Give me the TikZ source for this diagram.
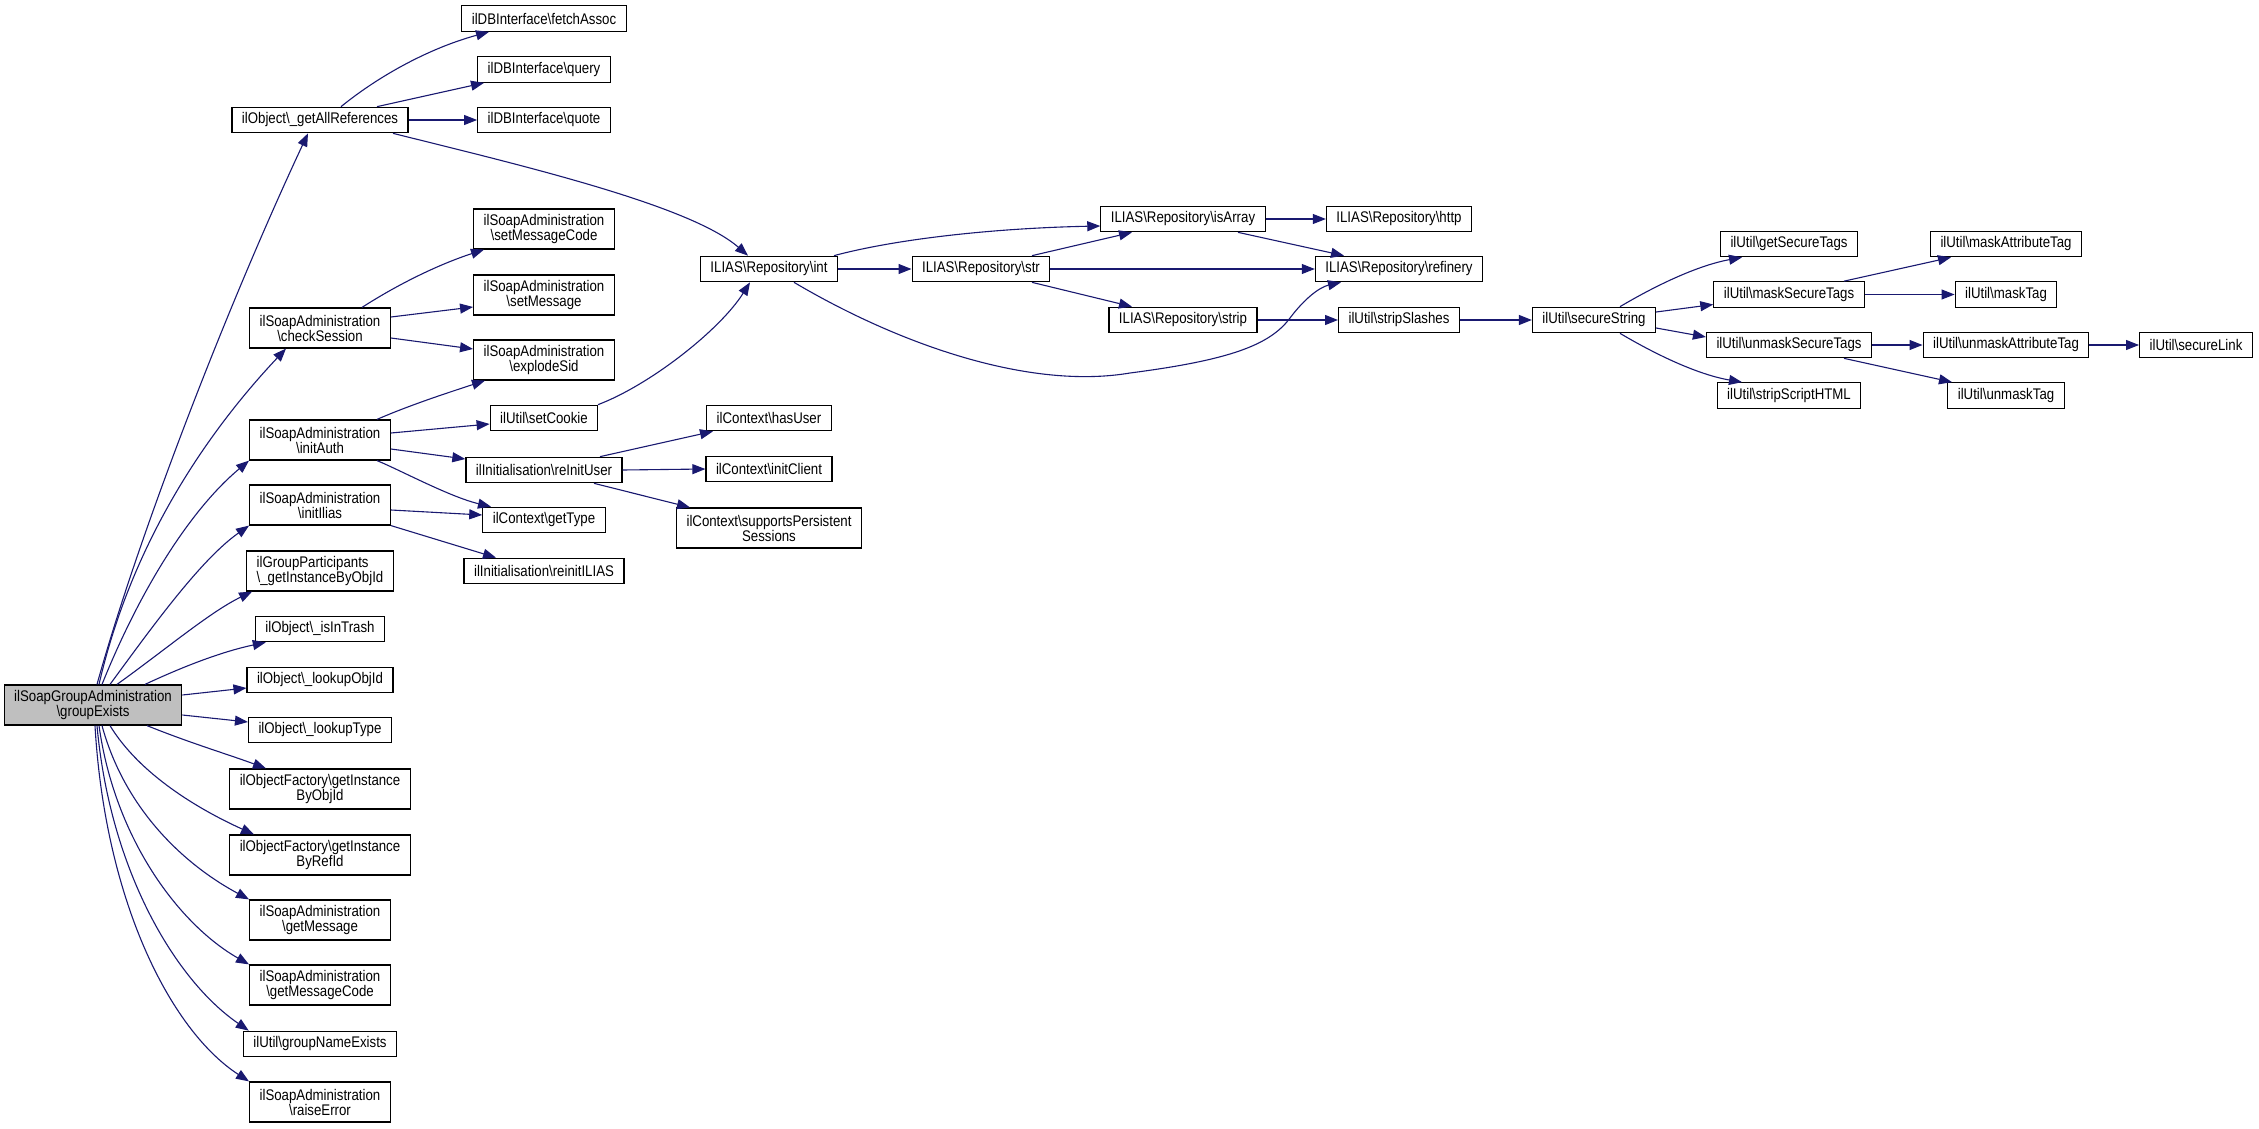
\documentclass[tikz,border=0pt]{standalone}
\usepackage{fontspec}
\setmainfont{Liberation Sans}[FakeStretch=0.86]
\usepackage{tikz}
\usetikzlibrary{arrows.meta}
\definecolor{edgeblue}{RGB}{25,25,112}
\definecolor{rootgray}{RGB}{191,191,191}
\newcommand{\bsl}{\textbackslash}

\begin{document}
\begin{tikzpicture}[
    x=1pt, y=-1pt,
    >={Triangle[length=13pt,width=10pt]},
    fnbox/.style={rectangle, draw=black, line width=1.2pt, fill=white, align=center, inner xsep=10pt, inner ysep=2pt, minimum height=25.5pt, font=\fontsize{15.4}{15}\selectfont},
    twoline/.style={minimum height=40pt},
    rootbox/.style={fnbox, twoline, fill=rootgray},
    calls/.style={->, draw=edgeblue, line width=1.1pt}
]
\useasboundingbox (0,0) rectangle (2259,1129);

% 0. Caller
\node[rootbox] (root) at (93,705) {ilSoapGroupAdministration\\\bsl groupExists};

% 1. Direct calls
\node[fnbox] (getallref) at (320,120) {ilObject\bsl\_getAllReferences};
\node[fnbox, twoline] (checksession) at (320,328) {ilSoapAdministration\\\bsl checkSession};
\node[fnbox, twoline] (initauth) at (320,440) {ilSoapAdministration\\\bsl initAuth};
\node[fnbox, twoline] (initilias) at (320,505) {ilSoapAdministration\\\bsl initIlias};
\node[fnbox, twoline, align=left] (grppart) at (320,571) {ilGroupParticipants\\\bsl\_getInstanceByObjId};
\node[fnbox] (isintrash) at (320,629) {ilObject\bsl\_isInTrash};
\node[fnbox] (lookupobjid) at (320,680) {ilObject\bsl\_lookupObjId};
\node[fnbox] (lookuptype) at (320,730) {ilObject\bsl\_lookupType};
\node[fnbox, twoline] (factobj) at (320,789) {ilObjectFactory\bsl getInstance\\ByObjId};
\node[fnbox, twoline] (factref) at (320,855) {ilObjectFactory\bsl getInstance\\ByRefId};
\node[fnbox, twoline] (getmsg) at (320,920) {ilSoapAdministration\\\bsl getMessage};
\node[fnbox, twoline] (getmsgcode) at (320,985) {ilSoapAdministration\\\bsl getMessageCode};
\node[fnbox] (grpname) at (320,1044) {ilUtil\bsl groupNameExists};
\node[fnbox, twoline] (raiseerr) at (320,1102) {ilSoapAdministration\\\bsl raiseError};

% 2. Second level
\node[fnbox] (fetchassoc) at (544,18.5) {ilDBInterface\bsl fetchAssoc};
\node[fnbox] (query) at (544,69.5) {ilDBInterface\bsl query};
\node[fnbox] (quote) at (544,120) {ilDBInterface\bsl quote};
\node[fnbox, twoline] (setmsgcode) at (544,229) {ilSoapAdministration\\\bsl setMessageCode};
\node[fnbox, twoline] (setmsg) at (544,295) {ilSoapAdministration\\\bsl setMessage};
\node[fnbox, twoline] (explodesid) at (544,360) {ilSoapAdministration\\\bsl explodeSid};
\node[fnbox] (setcookie) at (544,418) {ilUtil\bsl setCookie};
\node[fnbox] (reinituser) at (544,470) {ilInitialisation\bsl reInitUser};
\node[fnbox] (gettype) at (544,520) {ilContext\bsl getType};
\node[fnbox] (reinitilias) at (544,571) {ilInitialisation\bsl reinitILIAS};

% 3. Third level
\node[fnbox] (repoint) at (769,269) {ILIAS\bsl Repository\bsl int};
\node[fnbox] (hasuser) at (769,418) {ilContext\bsl hasUser};
\node[fnbox] (initclient) at (769,469) {ilContext\bsl initClient};
\node[fnbox, twoline] (persist) at (769,528) {ilContext\bsl supportsPersistent\\Sessions};

% 4. Repository chain
\node[fnbox] (repostr) at (981,269) {ILIAS\bsl Repository\bsl str};
\node[fnbox] (isarray) at (1183,219) {ILIAS\bsl Repository\bsl isArray};
\node[fnbox] (repostrip) at (1183,320) {ILIAS\bsl Repository\bsl strip};
\node[fnbox] (http) at (1399,219) {ILIAS\bsl Repository\bsl http};
\node[fnbox] (refinery) at (1399,269) {ILIAS\bsl Repository\bsl refinery};
\node[fnbox] (stripslashes) at (1399,320) {ilUtil\bsl stripSlashes};

% 5. Secure string chain
\node[fnbox] (securestr) at (1594,320) {ilUtil\bsl secureString};
\node[fnbox] (getsectags) at (1789,244) {ilUtil\bsl getSecureTags};
\node[fnbox] (masksectags) at (1789,294.5) {ilUtil\bsl maskSecureTags};
\node[fnbox] (unmasksectags) at (1789,345) {ilUtil\bsl unmaskSecureTags};
\node[fnbox] (stripscript) at (1789,395.5) {ilUtil\bsl stripScriptHTML};
\node[fnbox] (maskattr) at (2006,244) {ilUtil\bsl maskAttributeTag};
\node[fnbox] (masktag) at (2006,294.5) {ilUtil\bsl maskTag};
\node[fnbox] (unmaskattr) at (2006,345) {ilUtil\bsl unmaskAttributeTag};
\node[fnbox] (unmasktag) at (2006,395.5) {ilUtil\bsl unmaskTag};
\node[fnbox] (securelink) at (2196,345) {ilUtil\bsl secureLink};

% calls of the caller
\draw[calls] ([xshift=4pt]root.north) .. controls (140,530) and (230,300) .. ([xshift=-12pt]getallref.south);
\draw[calls] ([xshift=6pt]root.north) .. controls (130,550) and (200,440) .. ([xshift=-34pt]checksession.south);
\draw[calls] ([xshift=9pt]root.north) .. controls (140,590) and (190,510) .. (initauth.south west);
\draw[calls] ([xshift=17pt]root.north) .. controls (150,630) and (200,560) .. (initilias.south west);
\draw[calls] ([xshift=24pt]root.north) .. controls (165,650) and (210,612) .. ([xshift=6pt]grppart.south west);
\draw[calls] ([xshift=52pt]root.north) .. controls (180,668) and (220,652) .. ([xshift=11pt]isintrash.south west);
\draw[calls] ([yshift=10pt]root.east) -- ([yshift=-8pt]lookupobjid.west);
\draw[calls] ([yshift=-10pt]root.east) -- ([yshift=8pt]lookuptype.west);
\draw[calls] ([xshift=54pt]root.south) .. controls (190,743) and (230,755) .. ([xshift=-54pt]factobj.north);
\draw[calls] ([xshift=17pt]root.south) .. controls (140,775) and (200,810) .. ([xshift=-66pt]factref.north);
\draw[calls] ([xshift=9pt]root.south) .. controls (125,810) and (185,865) .. (getmsg.north west);
\draw[calls] ([xshift=6pt]root.south) .. controls (115,840) and (180,925) .. (getmsgcode.north west);
\draw[calls] ([xshift=4pt]root.south) .. controls (110,870) and (175,980) .. ([xshift=6pt]grpname.north west);
\draw[calls] ([xshift=2pt]root.south) .. controls (105,900) and (170,1030) .. (raiseerr.north west);

% second level calls
\draw[calls] ([xshift=21pt]getallref.north) .. controls (380,75) and (430,48) .. ([xshift=-55pt]fetchassoc.south);
\draw[calls] ([xshift=57pt]getallref.north) -- ([xshift=-60pt]query.south);
\draw[calls] (getallref.east) -- (quote.west);
\draw[calls] ([xshift=73pt]getallref.south) .. controls (520,165) and (690,205) .. ([xshift=-21pt]repoint.north);
\draw[calls] ([xshift=42pt]checksession.north) .. controls (400,283) and (440,264) .. ([xshift=-60pt]setmsgcode.south);
\draw[calls] ([yshift=11pt]checksession.east) -- ([yshift=-12pt]setmsg.west);
\draw[calls] ([yshift=-10pt]checksession.east) -- ([yshift=11pt]explodesid.west);
\draw[calls] ([xshift=57pt]initauth.north) .. controls (410,405) and (450,392) .. ([xshift=-59pt]explodesid.south);
\draw[calls] ([yshift=7pt]initauth.east) -- ([yshift=-6pt]setcookie.west);
\draw[calls] ([yshift=-9pt]initauth.east) -- ([yshift=11pt]reinituser.west);
\draw[calls] ([xshift=57pt]initauth.south) .. controls (400,470) and (450,497) .. ([xshift=-53pt]gettype.north);
\draw[calls] ([yshift=-5pt]initilias.east) -- ([yshift=5pt]gettype.west);
\draw[calls] (initilias.south east) -- ([xshift=-48pt]reinitilias.north);

% third level calls
\draw[calls] ([xshift=54pt]setcookie.north) .. controls (650,385) and (720,330) .. ([xshift=-19pt]repoint.south);
\draw[calls] ([xshift=56pt]reinituser.north) -- ([xshift=-56pt]hasuser.south);
\draw[calls] (reinituser.east) -- (initclient.west);
\draw[calls] ([xshift=50pt]reinituser.south) -- ([xshift=-79pt]persist.north);

% repository calls
\draw[calls] ([xshift=65pt]repoint.north) .. controls (900,238) and (1000,228) .. ([yshift=-7pt]isarray.west);
\draw[calls] (repoint.east) -- (repostr.west);
\draw[calls] ([xshift=25pt]repoint.south) .. controls (900,345) and (1030,390) .. (1130,373) .. controls (1230,360) and (1270,345) .. (1290,318) .. controls (1305,298) and (1320,287) .. ([xshift=-58pt]refinery.south);
\draw[calls] ([xshift=51pt]repostr.north) -- ([xshift=-51pt]isarray.south);
\draw[calls] (repostr.east) -- (refinery.west);
\draw[calls] ([xshift=51pt]repostr.south) -- ([xshift=-51pt]repostrip.north);
\draw[calls] (isarray.east) -- (http.west);
\draw[calls] ([xshift=55pt]isarray.south) -- ([xshift=-55pt]refinery.north);
\draw[calls] (repostrip.east) -- (stripslashes.west);
\draw[calls] (stripslashes.east) -- (securestr.west);

% secure string calls
\draw[calls] ([xshift=26pt]securestr.north) .. controls (1660,283) and (1700,265) .. ([xshift=-47pt]getsectags.south);
\draw[calls] ([yshift=8pt]securestr.east) -- ([yshift=-10pt]masksectags.west);
\draw[calls] ([yshift=-8pt]securestr.east) -- ([yshift=8pt]unmasksectags.west);
\draw[calls] ([xshift=26pt]securestr.south) .. controls (1660,357) and (1700,375) .. ([xshift=-47pt]stripscript.north);
\draw[calls] ([xshift=55pt]masksectags.north) -- ([xshift=-55pt]maskattr.south);
\draw[calls] (masksectags.east) -- (masktag.west);
\draw[calls] (unmasksectags.east) -- (unmaskattr.west);
\draw[calls] ([xshift=55pt]unmasksectags.south) -- ([xshift=-54pt]unmasktag.north);
\draw[calls] (unmaskattr.east) -- (securelink.west);

\end{tikzpicture}
\end{document}
